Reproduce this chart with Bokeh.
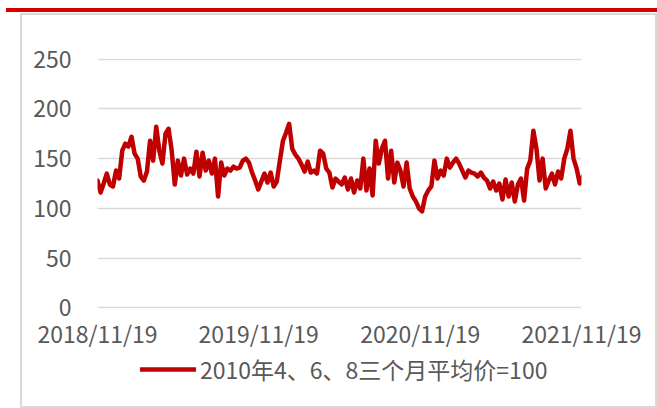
import pandas as pd
from bokeh.plotting import figure
from bokeh.layouts import column
from bokeh.models import (Range1d, FixedTicker, DatetimeTickFormatter, Legend, LegendItem)
from bokeh.embed import file_html
from bokeh.resources import INLINE

# ---- data (weekly readings, index 2010 Apr/Jun/Aug avg = 100) ----
start_date = "2018-11-19"
values = [
    128, 116, 125, 135, 124, 122, 138, 130, 158, 165,
    162, 172, 155, 150, 132, 128, 137, 168, 148, 182,
    158, 145, 175, 180, 158, 124, 148, 133, 150, 134,
    140, 135, 157, 132, 156, 138, 148, 135, 150, 112,
    146, 133, 140, 138, 142, 140, 141, 148, 150, 146,
    136, 128, 119, 127, 135, 126, 136, 122, 127, 148,
    168, 176, 185, 160, 154, 150, 144, 137, 147, 136,
    138, 135, 158, 155, 140, 136, 121, 130, 127, 124,
    131, 119, 130, 116, 128, 120, 150, 118, 140, 113,
    168, 145, 160, 168, 130, 158, 126, 146, 138, 122,
    146, 120, 112, 107, 100, 97, 112, 118, 122, 148,
    130, 138, 133, 150, 141, 146, 150, 145, 138, 131,
    138, 136, 135, 132, 136, 131, 128, 120, 127, 118,
    125, 109, 129, 112, 126, 107, 124, 130, 108, 140,
    148, 178, 160, 128, 150, 120, 128, 135, 124, 137,
    130, 150, 160, 178, 150, 140, 125, 132,
]
dates = pd.date_range(start_date, periods=len(values), freq="7D")
series_name = "2010年4、6、8三个月平均价=100"
x_tick_labels = ["2018/11/19", "2019/11/19", "2020/11/19", "2021/11/19"]
y_ticks = [0, 50, 100, 150, 200, 250]

tick_dates = pd.to_datetime(x_tick_labels, format="%Y/%m/%d")
tick_ms = [int((d - pd.Timestamp("1970-01-01")) // pd.Timedelta("1ms")) for d in tick_dates]

FONT = "Noto Sans CJK SC"
TXT = "#595959"
LINE = dict(line_color="#c00000", line_width=4.5, line_join="round", line_cap="round")

# page decoration (red top bar + light gray chart box) drawn as CSS backgrounds
deco = {
    "background-color": "white",
    "background-image": ", ".join(["linear-gradient(#d40000,#d40000)"] +
                                  ["linear-gradient(#d9d9d9,#d9d9d9)"] * 4),
    "background-position": "6px 8px, 20px 13px, 20px 13px, 655px 13px, 20px 406px",
    "background-size": "651px 4px, 636px 2px, 2px 394px, 2px 394px, 637px 2px",
    "background-repeat": "no-repeat",
}

# ---- main chart ----
p = figure(frame_width=484, frame_height=250, x_axis_type="datetime", output_backend="svg",
           toolbar_location=None,
           x_range=Range1d(tick_dates[0], tick_dates[-1]),
           y_range=Range1d(-0.6, 250.6),
           min_border_left=97, min_border_right=76, min_border_top=58, min_border_bottom=40)
p.outline_line_color = None
p.background_fill_alpha = 0
p.border_fill_alpha = 0

r = p.line(dates, values, **LINE)

p.xgrid.visible = False
p.ygrid.grid_line_color = "#d9d9d9"
p.ygrid.grid_line_width = 1.5

p.yaxis.ticker = FixedTicker(ticks=y_ticks)
p.xaxis.ticker = FixedTicker(ticks=tick_ms)
fmt = "%Y/%m/%d"
p.xaxis.formatter = DatetimeTickFormatter(
    milliseconds=fmt, seconds=fmt, minsec=fmt, minutes=fmt, hourmin=fmt, hours=fmt,
    days=fmt, months=fmt, years=fmt)

for ax in (p.xaxis[0], p.yaxis[0]):
    ax.axis_line_color = None
    ax.major_tick_line_color = None
    ax.minor_tick_line_color = None
    ax.major_tick_out = 0
    ax.minor_tick_out = 0
    ax.major_label_text_font = FONT
    ax.major_label_text_font_size = "23px"
    ax.major_label_text_color = TXT
p.yaxis.major_label_standoff = 26
p.xaxis.major_label_standoff = 7

# ---- legend strip (same series; its frame only hosts the legend) ----
pl = figure(frame_width=484, frame_height=34, x_axis_type="datetime", output_backend="svg",
            toolbar_location=None, x_axis_location=None, y_axis_location=None,
            x_range=Range1d(tick_dates[0], tick_dates[-1]),
            y_range=Range1d(1000, 1001),
            min_border_left=97, min_border_right=76, min_border_top=0, min_border_bottom=22)
pl.outline_line_color = None
pl.background_fill_alpha = 0
pl.border_fill_alpha = 0
pl.grid.visible = False
rl = pl.line(dates, values, **LINE)

legend = Legend(items=[LegendItem(label=series_name, renderers=[rl])],
                location="left", orientation="horizontal",
                glyph_width=56, glyph_height=20, label_standoff=4,
                padding=0, margin=43, border_line_color=None,
                background_fill_alpha=0,
                label_text_font=FONT, label_text_font_size="23px",
                label_text_color=TXT)
pl.add_layout(legend)

layout = column(p, pl, spacing=0, styles=deco)

open("out.html", "w").write(file_html(layout, INLINE))
